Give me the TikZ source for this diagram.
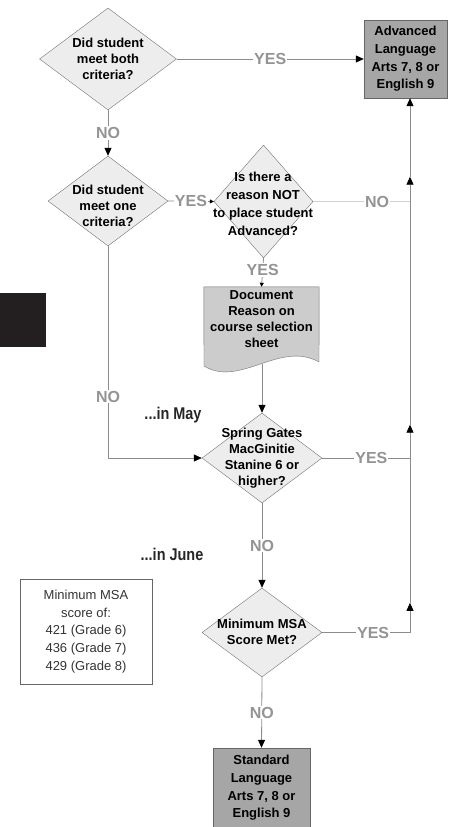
\documentclass[tikz,border=0pt]{standalone}
\usepackage{fontspec}
\setmainfont{Liberation Sans}
\usetikzlibrary{shapes.geometric,arrows.meta,backgrounds}
\definecolor{tabblack}{RGB}{35,31,32}
\tikzset{
  decision/.style={diamond, draw=black!55, fill=black!7, inner sep=0pt},
  qtext/.style={align=center, font=\fontsize{13}{16}\selectfont\bfseries},
  result/.style={rectangle, draw=black!60, fill=black!35, inner sep=0pt, align=center,
    font=\fontsize{13}{17.6}\selectfont\bfseries},
  docshape/.style={draw=black!55, fill=black!20},
  lbl/.style={fill=white, text=black!42, inner sep=1pt, font=\fontsize{16}{16}\selectfont\bfseries},
  when/.style={text=black!85, font=\fontsize{17}{17}\selectfont\bfseries},
  conn/.style={draw=black!45, line width=0.8pt},
  arr/.style={-{Triangle[length=8pt,width=7pt,color=black]}},
  arrsmall/.style={-{Triangle[length=4pt,width=4pt,color=black]}}
}
\begin{document}
\begin{tikzpicture}[x=1pt,y=-1pt]
\useasboundingbox (0,0) rectangle (450,827);
\clip (0,0) rectangle (450,827);
\path
(108,59) node[decision, minimum width=137pt, minimum height=102pt] (d1) {}
(108,59) node[qtext] (d1-t) {Did student\\meet both\\criteria?}
(108,201) node[decision, minimum width=120pt, minimum height=90pt] (d2) {}
(108,206) node[qtext] (d2-t) {Did student\\meet one\\criteria?}
(263.5,201.5) node[decision, minimum width=99pt, minimum height=113pt] (d3) {}
(263,203.5) node[qtext, font=\fontsize{13}{18}\selectfont\bfseries] (d3-t) {Is there a\\reason NOT\\to place student\\Advanced?}
(262,458) node[decision, minimum width=120pt, minimum height=90pt] (d4) {}
(262,458) node[qtext] (d4-t) {Spring Gates\\MacGinitie\\Stanine 6 or\\higher?}
(262,632.5) node[decision, minimum width=120pt, minimum height=89pt] (d5) {}
(262,631.5) node[qtext] (d5-t) {Minimum MSA\\Score Met?}
(405.5,59) node[result, minimum width=83pt, minimum height=78pt] (adv) {Advanced\\Language\\Arts 7, 8 or\\English 9}
(261.5,788) node[result, minimum width=97pt, minimum height=80pt] (std) {Standard\\Language\\Arts 7, 8 or\\English 9}
(261.5,319.5) node[qtext, minimum width=115pt, minimum height=65pt] (doc) {Document\\Reason on\\course selection\\sheet}
(86,631.5) node[draw=black!60, minimum width=132pt, minimum height=105pt, align=center,
  text=black!80, font=\fontsize{13}{17.8}\selectfont] (msa) {Minimum MSA\\score of:\\421 (Grade 6)\\436 (Grade 7)\\429 (Grade 8)}
(0,293) node[fill=tabblack, anchor=north west, inner sep=0pt, minimum width=46pt, minimum height=54pt] (tab) {}
(173,415) node[when] (may) {\scalebox{.85}[1]{...in May}}
(172,554) node[when] (june) {\scalebox{.85}[1]{...in June}}
(410,201.5) coordinate (j3)
(410,458) coordinate (j4)
(410,632.5) coordinate (j5)
(262,364) coordinate (doc-b);
\begin{scope}[on background layer]
\filldraw[docshape] (doc.north west) -- (doc.north east) -- (319,362)
  .. controls (280,340) and (240,388) .. (204,366) -- cycle;
\end{scope}
\draw[conn,arr] (d1.east) -- node[lbl]{YES} (adv.west);
\draw[conn,arr] (d1.south) -- node[lbl]{NO} (d2.north);
\draw[conn,arrsmall] (d2.east) -- node[lbl]{YES} (d3.west);
\draw[conn,draw=black!18] (d3.east) -- node[lbl,pos=.66]{NO} (j3);
\draw[conn,arrsmall] (d3.south) -- node[lbl,pos=.41]{YES} (doc.north);
\draw[conn,arr] (doc-b) -- (d4.north);
\draw[conn,arr] (d2.south) |- node[lbl,pos=.355]{NO} (d4.west);
\draw[conn] (d4.east) -- node[lbl,pos=.56]{YES} (j4);
\draw[conn,arr] (d4.south) -- node[lbl]{NO} (d5.north);
\draw[conn] (d5.east) -- node[lbl,pos=.58]{YES} (j5);
\draw[conn,arr] (d5.south) -- node[lbl]{NO} (std.north);
%the way back up to the advanced box
\path (j5) to coordinate[pos=0.17] (aux-5) (j4);
\path (j4) to coordinate[pos=0.13] (aux-4) (j3);
\path (j3) to coordinate[pos=0.24] (aux-3) (j5 |- adv.south);
\draw[conn,arr] (j5) -- (aux-5);
\draw[conn] (aux-5) -- (j4);
\draw[conn,arr] (j4) -- (aux-4);
\draw[conn] (aux-4) -- (j3);
\draw[conn,arr] (j3) -- (aux-3);
\draw[conn,arr] (aux-3) -- (j5 |- adv.south);
\end{tikzpicture}
\end{document}
